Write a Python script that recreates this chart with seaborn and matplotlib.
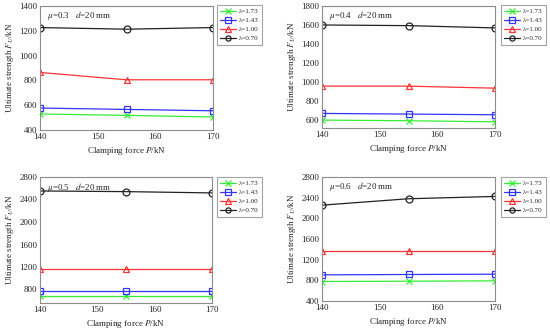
import numpy as np
import pandas as pd
import matplotlib
matplotlib.use("Agg")
import matplotlib.pyplot as plt
import seaborn as sns

sns.set_theme(style="white")
plt.rcParams['font.family'] = ['Liberation Serif', 'DejaVu Serif']
plt.rcParams['mathtext.fontset'] = 'stix'

clamping = [140, 155, 170]
lambdas = ["λ=1.73", "λ=1.43", "λ=1.00", "λ=0.70"]

mu03 = {"λ=1.73": [529, 518, 505], "λ=1.43": [577, 566, 555],
        "λ=1.00": [864, 805, 805], "λ=0.70": [1226, 1213, 1226]}
mu04 = {"λ=1.73": [603, 596, 585], "λ=1.43": [673, 666, 659],
        "λ=1.00": [959, 959, 938], "λ=0.70": [1601, 1594, 1570]}
mu05 = {"λ=1.73": [676, 676, 676], "λ=1.43": [782, 782, 782],
        "λ=1.00": [1160, 1160, 1160], "λ=0.70": [2552, 2540, 2517]}
mu06 = {"λ=1.73": [777, 783, 790], "λ=1.43": [906, 913, 919],
        "λ=1.00": [1360, 1360, 1360], "λ=0.70": [2255, 2379, 2424]}

panel_labels = ["$\\mu$=0.3   $d$=20 mm", "$\\mu$=0.4   $d$=20 mm",
                "$\\mu$=0.5   $d$=20 mm", "$\\mu$=0.6   $d$=20 mm"]
ylims = [(400, 1400), (520, 1800), (560, 2800), (400, 2800)]
yticks = [np.arange(400, 1401, 200), np.arange(600, 1801, 200),
          np.arange(800, 2801, 400), np.arange(400, 2801, 400)]

palette = {"λ=1.73": "#33ee33", "λ=1.43": "#3333ff",
           "λ=1.00": "#ff3333", "λ=0.70": "#222222"}
markers = {"λ=1.73": "x", "λ=1.43": "s", "λ=1.00": "^", "λ=0.70": "o"}

W, H = 550, 329
fig = plt.figure(figsize=(5.5, 3.29), dpi=100)

boxes = [(40, 213, 6, 130), (322, 495, 6, 128), (40, 212, 177, 303), (322, 495, 177, 301)]
legpos = [(217, 5), (501, 5), (217, 177), (501, 177)]
datasets = [mu03, mu04, mu05, mu06]

gray = "#8c8c8c"
for i, (ds, box) in enumerate(zip(datasets, boxes)):
    l, r, t, b = box
    ax = fig.add_axes([l / W, 1 - b / H, (r - l) / W, (b - t) / H])
    rows = []
    for lam in lambdas:
        for p, v in zip(clamping, ds[lam]):
            rows.append({"P": p, "F": v, "lam": lam})
    df = pd.DataFrame(rows)
    for lam in lambdas:
        sub = df[df["lam"] == lam]
        sns.lineplot(data=sub, x="P", y="F", ax=ax, color=palette[lam],
                     marker=markers[lam], markersize=5, markerfacecolor="none",
                     markeredgecolor=palette[lam], markeredgewidth=0.9,
                     linewidth=0.9, label=lam)
    ax.set_xlim(140, 170)
    ax.set_xticks([140, 150, 160, 170])
    ax.set_ylim(*ylims[i])
    ax.set_yticks(yticks[i])
    ax.tick_params(labelsize=6.5, direction="in", length=2, color=gray, pad=2)
    for s in ax.spines.values():
        s.set_color(gray)
        s.set_linewidth(0.8)
    ax.set_xlabel("Clamping force $P$/kN", fontsize=6.5, labelpad=3)
    ax.set_ylabel("Ultimate strength $F_U$/kN", fontsize=6.5, labelpad=2)
    ax.text(0.04, 0.92, panel_labels[i], transform=ax.transAxes, fontsize=6.5,
            va="center", ha="left")
    lx, ly = legpos[i]
    leg = ax.legend(loc="upper left", bbox_to_anchor=((lx - l) / (r - l), 1 + (t - ly) / (b - t)),
                    fontsize=5, frameon=True, fancybox=False, edgecolor=gray,
                    borderpad=0.5, labelspacing=0.45, handlelength=2.2, markerscale=0.75,
                    handletextpad=0.4, borderaxespad=0)
    leg.get_frame().set_linewidth(0.8)

fig.savefig("out.png", dpi=100)
